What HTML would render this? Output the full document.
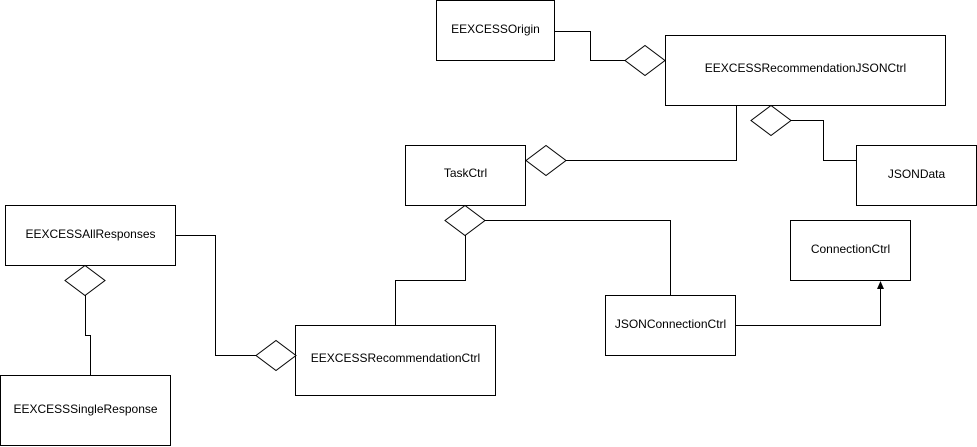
<!DOCTYPE html>
<html><head><meta charset="utf-8"><style>
html,body{margin:0;padding:0;background:#fff;}
svg{display:block;}
text{font-family:"Liberation Sans",Arial,sans-serif;font-size:12px;fill:#000;text-anchor:middle;dominant-baseline:middle;}
</style></head><body>
<svg width="977" height="447" viewBox="0 0 977 447" xmlns="http://www.w3.org/2000/svg">
<g fill="#fff" stroke="#000" stroke-width="1">
<rect x="436.5" y="0.5" width="118" height="60"/>
<rect x="665.5" y="35.5" width="280" height="70"/>
<rect x="405.5" y="145.5" width="120" height="60"/>
<rect x="856.5" y="145.5" width="120" height="60"/>
<rect x="790.5" y="220.5" width="120" height="60"/>
<rect x="5.5" y="205.5" width="170" height="60"/>
<rect x="605.5" y="295.5" width="130" height="60"/>
<rect x="295.5" y="325.5" width="200" height="70"/>
<rect x="0.5" y="375.5" width="170" height="70"/>
</g>
<g fill="none" stroke="#000" stroke-width="1">
<polyline points="555,31.5 590.5,31.5 590.5,60.5 625,60.5"/>
<polyline points="791,120.5 823.5,120.5 823.5,160.5 856,160.5"/>
<polyline points="736.5,106 736.5,160.5 565,160.5"/>
<polyline points="485,220.5 670.5,220.5 670.5,295"/>
<polyline points="465.5,235 465.5,280.5 395.5,280.5 395.5,325"/>
<polyline points="176,235.5 215.5,235.5 215.5,355.5 256,355.5"/>
<polyline points="85.5,295 85.5,335.5 90.5,335.5 90.5,375"/>
<polyline points="736,325.5 880.5,325.5 880.5,288"/>
</g>
<g fill="#fff" stroke="#000" stroke-width="1">
<polygon points="625,60.5 645,45.5 665,60.5 645,75.5"/>
<polygon points="751,120.5 771,105.5 791,120.5 771,135.5"/>
<polygon points="526,160.5 546,145.5 566,160.5 546,175.5"/>
<polygon points="445,220.5 465,205.5 485,220.5 465,235.5"/>
<polygon points="65,280.5 85,265.5 105,280.5 85,295.5"/>
<polygon points="256,355.5 276,340.5 296,355.5 276,370.5"/>
</g>
<polygon points="880.5,281 877,289 884,289" fill="#000"/>
<text x="495.5" y="30">EEXCESSOrigin</text>
<text x="805.5" y="69">EEXCESSRecommendationJSONCtrl</text>
<text x="465.5" y="174">TaskCtrl</text>
<text x="916.5" y="175">JSONData</text>
<text x="850.5" y="250">ConnectionCtrl</text>
<text x="90.5" y="235">EEXCESSAllResponses</text>
<text x="670.5" y="325">JSONConnectionCtrl</text>
<text x="395.5" y="359">EEXCESSRecommendationCtrl</text>
<text x="85.5" y="410">EEXCESSSingleResponse</text>
</svg>
</body></html>
